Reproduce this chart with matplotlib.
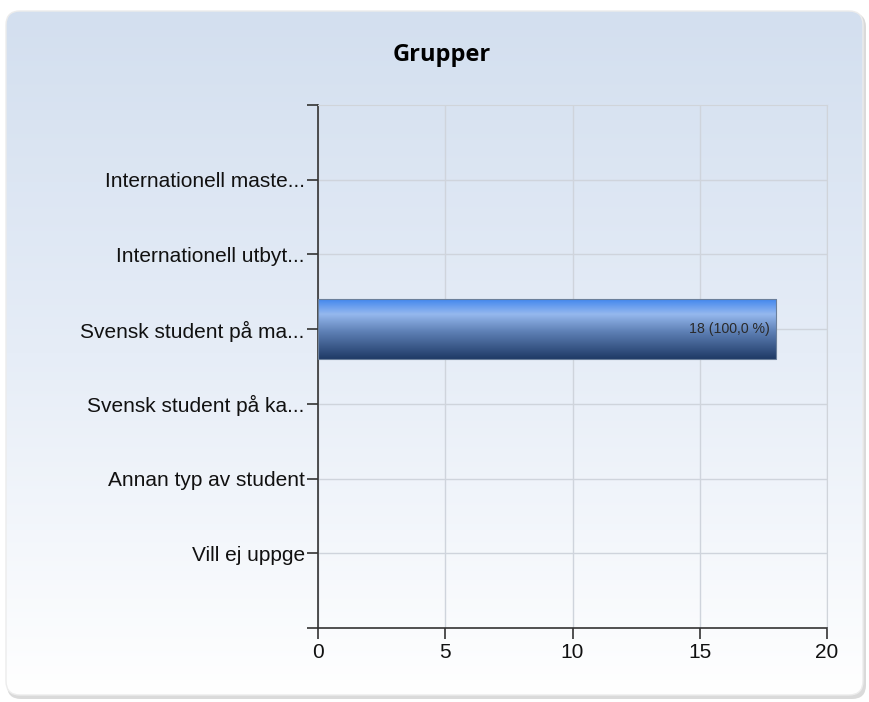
import numpy as np
import matplotlib.pyplot as plt
from matplotlib.patches import FancyBboxPatch
from matplotlib.colors import LinearSegmentedColormap

categories = ["Internationell maste...", "Internationell utbyt...", "Svensk student på ma...",
              "Svensk student på ka...", "Annan typ av student", "Vill ej uppge"]
counts = [0, 0, 18, 0, 0, 0]
percents = [0.0, 0.0, 100.0, 0.0, 0.0, 0.0]
x_ticks = [0, 5, 10, 15, 20]

plt.rcParams['font.family'] = ['Liberation Sans', 'DejaVu Sans']

fig = plt.figure(figsize=(8.69, 7.02), dpi=100)
fig.patch.set_facecolor('white')

# panel background with vertical gradient
bg = fig.add_axes([0, 0, 1, 1], zorder=-10)
bg.set_xlim(0, 869)
bg.set_ylim(702, 0)
bg.axis('off')
grad = np.linspace(0, 1, 256).reshape(-1, 1)
panel_cmap = LinearSegmentedColormap.from_list('panel', ['#d3dfef', '#e6edf7', '#ffffff'])
# soft shadow
bg.add_patch(FancyBboxPatch((7, 13), 859, 686, boxstyle="round,pad=0,rounding_size=14",
                            facecolor='#dadada', edgecolor='none', zorder=0))
panel = FancyBboxPatch((6, 11), 857, 684, boxstyle="round,pad=0,rounding_size=14",
                       facecolor='white', edgecolor='none', zorder=0.5)
bg.add_patch(panel)
im = bg.imshow(grad, cmap=panel_cmap, extent=(6, 863, 695, 11), aspect='auto', zorder=1)
im.set_clip_path(panel)
bg.add_patch(FancyBboxPatch((6, 11), 857, 684, boxstyle="round,pad=0,rounding_size=14",
                            facecolor='none', edgecolor='#ececec', linewidth=1, zorder=2))

ax = fig.add_axes([318 / 869, 1 - 628 / 702, (827 - 318) / 869, (628 - 105) / 702])
ax.patch.set_alpha(0)

ypos = np.arange(len(categories))
bar_cmap = LinearSegmentedColormap.from_list(
    'bar', [(0, '#4287ee'), (0.25, '#95b8ee'), (0.55, '#5d7fb4'), (1, '#1f3a66')])
h = 0.8
for y, c, p in zip(ypos, counts, percents):
    if c <= 0:
        continue
    ax.imshow(grad, cmap=bar_cmap, extent=(0, c, y + h / 2, y - h / 2), aspect='auto', zorder=3)
    ax.barh(y, c, height=h, facecolor='none', edgecolor='#6b7f9a', linewidth=0.8, zorder=4)
    ax.text(c - 0.25, y, f"{c} ({p:.1f} %)".replace('.', ','), ha='right', va='center',
            fontsize=10.2, color='#2a2a2a', zorder=5)
ax.set_xlim(0, 20)
ax.set_ylim(6, -1)

ax.set_yticks(ypos)
ax.set_yticklabels(categories, fontsize=15, color='#111111')
ax.set_yticks([-1, 6], minor=True)
ax.set_xticks(x_ticks)
ax.set_xticklabels([str(t) for t in x_ticks], fontsize=15, color='#111111')
ax.tick_params(axis='both', which='both', length=8, width=1.2, color='#333333', direction='out')
ax.tick_params(axis='y', pad=1.5)
ax.tick_params(axis='x', pad=3)

ax.grid(True, color='#cfd4dc', linewidth=1)
ax.set_axisbelow(True)
for s in ['top', 'right']:
    ax.spines[s].set_color('#d0d4da')
for s in ['left', 'bottom']:
    ax.spines[s].set_color('#333333')
    ax.spines[s].set_linewidth(1.2)

fig.text(442 / 869, 1 - 55 / 702, "Grupper", ha='center', va='center', fontsize=17,
         fontweight='bold', family=['Open Sans', 'DejaVu Sans'])

fig.savefig('out.png', dpi=100)
